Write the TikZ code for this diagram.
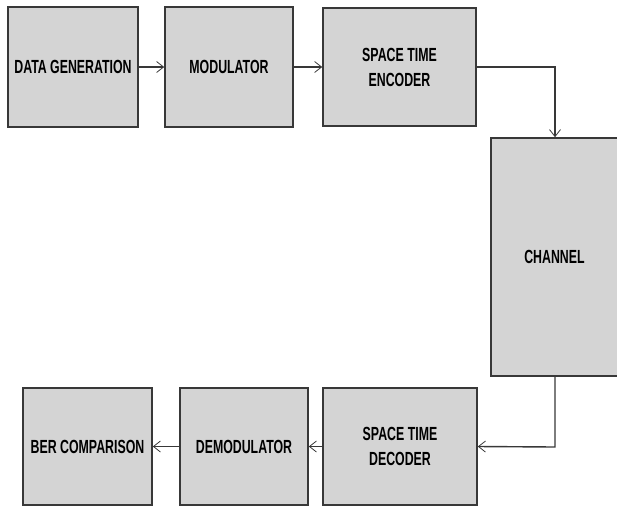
\documentclass[tikz,border=0pt]{standalone}
\usepackage{fontspec}
\setmainfont{Liberation Sans}[FakeStretch=0.65]
\usetikzlibrary{arrows.meta}
\definecolor{boxfill}{HTML}{D4D4D4}
\definecolor{boxline}{HTML}{383838}
\begin{document}
\begin{tikzpicture}[x=1pt,y={(0,-1pt)},
  blk/.style={draw=boxline,line width=1.6pt,fill=boxfill,inner sep=0pt,
    font=\fontsize{19}{25}\selectfont\bfseries,align=center,text=black},
  conn/.style={draw=boxline,line width=1.4pt,
    -{Straight Barb[length=7pt,width=11pt,line width=0.8pt]}}]
\useasboundingbox (0,0) rectangle (617,506);
\node[blk,minimum width=130pt,minimum height=120pt] (gen) at (73,67) {DATA GENERATION};
\node[blk,minimum width=128pt,minimum height=120pt] (mod) at (229,67) {MODULATOR};
\node[blk,minimum width=153pt,minimum height=118pt] (enc) at (399.5,67) {SPACE TIME\\ENCODER};
\node[blk,minimum width=127pt,minimum height=238pt] (ch) at (554.5,257) {CHANNEL};
\node[blk,minimum width=154pt,minimum height=117pt] (dec) at (400,446.5) {SPACE TIME\\DECODER};
\node[blk,minimum width=128pt,minimum height=117pt] (dem) at (244,446.5) {DEMODULATOR};
\node[blk,minimum width=129pt,minimum height=117pt] (ber) at (87.5,446.5) {BER COMPARISON};
\coordinate (c1) at (555,67);
\coordinate (c2) at (555,447);
\draw[conn] (gen) -- (mod);
\draw[conn] (mod) -- (enc);
\draw[conn] (enc.east) -- (c1) -- (c1 |- ch.north);
\draw[conn] (c2 |- ch.south) -- (c2) -- (dec.east);
\draw[conn] (dec) -- (dem);
\draw[conn] (dem) -- (ber);
\end{tikzpicture}
\end{document}
